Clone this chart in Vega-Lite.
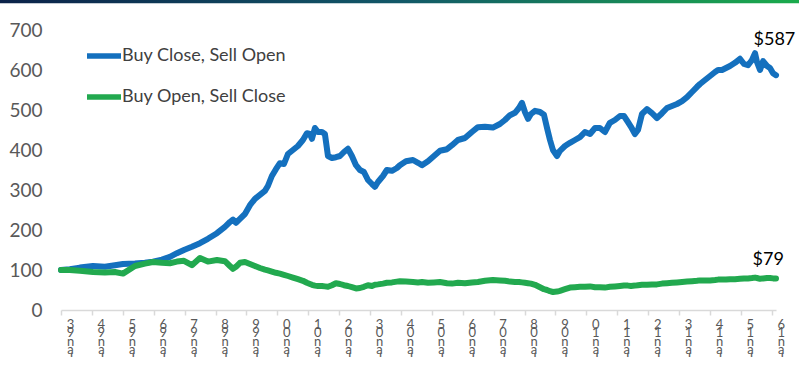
{
  "$schema": "https://vega.github.io/schema/vega-lite/v6.json",
  "width": 715,
  "height": 280,
  "autosize": {"type": "none"},
  "padding": {"left": 61, "top": 30, "right": 23, "bottom": 47},
  "background": "white",
  "config": {
    "view": {"stroke": null},
    "font": "Lato",
    "axisX": {
      "title": null,
      "labelAngle": 0, "labelAlign": "center", "labelBaseline": "top",
      "labelOffset": 9, "labelPadding": 3, "labelLineHeight": 8.5,
      "labelFontSize": 13, "labelFont": "Lato", "labelColor": "#595959",
      "labelOverlap": false, "labelFlush": false, "labelBound": false,
      "domainColor": "#d9d9d9", "domainWidth": 1.5, "tickColor": "#d9d9d9", "tickWidth": 1.5, "tickSize": 5,
      "grid": false
    }
  },
  "layer": [
    {
      "data": {"values": [
        {"date":"1993-01-01","Buy Close, Sell Open":100,"Buy Open, Sell Close":100},
        {"date":"1993-04-15","Buy Close, Sell Open":102,"Buy Open, Sell Close":100},
        {"date":"1993-08-12","Buy Close, Sell Open":106,"Buy Open, Sell Close":98},
        {"date":"1994-01-14","Buy Close, Sell Open":110,"Buy Open, Sell Close":95},
        {"date":"1994-06-04","Buy Close, Sell Open":108,"Buy Open, Sell Close":94},
        {"date":"1994-09-30","Buy Close, Sell Open":112,"Buy Open, Sell Close":95},
        {"date":"1995-01-03","Buy Close, Sell Open":115,"Buy Open, Sell Close":91},
        {"date":"1995-05-25","Buy Close, Sell Open":116,"Buy Open, Sell Close":110},
        {"date":"1995-09-20","Buy Close, Sell Open":118,"Buy Open, Sell Close":116},
        {"date":"1995-12-23","Buy Close, Sell Open":121,"Buy Open, Sell Close":120},
        {"date":"1996-04-08","Buy Close, Sell Open":126,"Buy Open, Sell Close":118},
        {"date":"1996-07-11","Buy Close, Sell Open":133,"Buy Open, Sell Close":117},
        {"date":"1996-10-02","Buy Close, Sell Open":142,"Buy Open, Sell Close":121},
        {"date":"1996-12-24","Buy Close, Sell Open":150,"Buy Open, Sell Close":123},
        {"date":"1997-03-28","Buy Close, Sell Open":158,"Buy Open, Sell Close":112},
        {"date":"1997-07-01","Buy Close, Sell Open":167,"Buy Open, Sell Close":130},
        {"date":"1997-10-03","Buy Close, Sell Open":178,"Buy Open, Sell Close":121},
        {"date":"1998-01-18","Buy Close, Sell Open":192,"Buy Open, Sell Close":125},
        {"date":"1998-04-22","Buy Close, Sell Open":208,"Buy Open, Sell Close":122},
        {"date":"1998-06-20","Buy Close, Sell Open":220,"Buy Open, Sell Close":110},
        {"date":"1998-07-26","Buy Close, Sell Open":226,"Buy Open, Sell Close":103},
        {"date":"1998-08-30","Buy Close, Sell Open":218,"Buy Open, Sell Close":108},
        {"date":"1998-10-17","Buy Close, Sell Open":228,"Buy Open, Sell Close":118},
        {"date":"1998-12-15","Buy Close, Sell Open":240,"Buy Open, Sell Close":120},
        {"date":"1999-02-12","Buy Close, Sell Open":262,"Buy Open, Sell Close":115},
        {"date":"1999-04-12","Buy Close, Sell Open":278,"Buy Open, Sell Close":110},
        {"date":"1999-06-10","Buy Close, Sell Open":288,"Buy Open, Sell Close":105},
        {"date":"1999-08-08","Buy Close, Sell Open":298,"Buy Open, Sell Close":101},
        {"date":"1999-09-12","Buy Close, Sell Open":310,"Buy Open, Sell Close":99},
        {"date":"1999-10-29","Buy Close, Sell Open":335,"Buy Open, Sell Close":96},
        {"date":"1999-12-16","Buy Close, Sell Open":352,"Buy Open, Sell Close":93},
        {"date":"2000-02-01","Buy Close, Sell Open":367,"Buy Open, Sell Close":91},
        {"date":"2000-03-20","Buy Close, Sell Open":365,"Buy Open, Sell Close":88},
        {"date":"2000-05-06","Buy Close, Sell Open":390,"Buy Open, Sell Close":85},
        {"date":"2000-07-04","Buy Close, Sell Open":400,"Buy Open, Sell Close":81},
        {"date":"2000-09-01","Buy Close, Sell Open":410,"Buy Open, Sell Close":77},
        {"date":"2000-10-30","Buy Close, Sell Open":425,"Buy Open, Sell Close":73},
        {"date":"2000-12-16","Buy Close, Sell Open":442,"Buy Open, Sell Close":68},
        {"date":"2001-01-21","Buy Close, Sell Open":440,"Buy Open, Sell Close":65},
        {"date":"2001-02-14","Buy Close, Sell Open":428,"Buy Open, Sell Close":63},
        {"date":"2001-03-21","Buy Close, Sell Open":455,"Buy Open, Sell Close":61},
        {"date":"2001-04-26","Buy Close, Sell Open":445,"Buy Open, Sell Close":60},
        {"date":"2001-06-12","Buy Close, Sell Open":445,"Buy Open, Sell Close":60},
        {"date":"2001-07-17","Buy Close, Sell Open":440,"Buy Open, Sell Close":59},
        {"date":"2001-08-22","Buy Close, Sell Open":385,"Buy Open, Sell Close":58},
        {"date":"2001-10-08","Buy Close, Sell Open":380,"Buy Open, Sell Close":62},
        {"date":"2001-11-24","Buy Close, Sell Open":382,"Buy Open, Sell Close":67},
        {"date":"2002-01-11","Buy Close, Sell Open":385,"Buy Open, Sell Close":65},
        {"date":"2002-02-27","Buy Close, Sell Open":395,"Buy Open, Sell Close":62},
        {"date":"2002-04-15","Buy Close, Sell Open":403,"Buy Open, Sell Close":60},
        {"date":"2002-06-01","Buy Close, Sell Open":385,"Buy Open, Sell Close":57},
        {"date":"2002-07-19","Buy Close, Sell Open":362,"Buy Open, Sell Close":54},
        {"date":"2002-09-04","Buy Close, Sell Open":350,"Buy Open, Sell Close":55},
        {"date":"2002-10-21","Buy Close, Sell Open":345,"Buy Open, Sell Close":58},
        {"date":"2002-12-08","Buy Close, Sell Open":325,"Buy Open, Sell Close":62},
        {"date":"2003-01-24","Buy Close, Sell Open":315,"Buy Open, Sell Close":60},
        {"date":"2003-02-28","Buy Close, Sell Open":308,"Buy Open, Sell Close":63},
        {"date":"2003-04-05","Buy Close, Sell Open":320,"Buy Open, Sell Close":64},
        {"date":"2003-06-03","Buy Close, Sell Open":335,"Buy Open, Sell Close":66},
        {"date":"2003-07-19","Buy Close, Sell Open":350,"Buy Open, Sell Close":68},
        {"date":"2003-09-17","Buy Close, Sell Open":348,"Buy Open, Sell Close":69},
        {"date":"2003-11-15","Buy Close, Sell Open":355,"Buy Open, Sell Close":71},
        {"date":"2003-12-20","Buy Close, Sell Open":362,"Buy Open, Sell Close":72},
        {"date":"2004-03-01","Buy Close, Sell Open":372,"Buy Open, Sell Close":71},
        {"date":"2004-05-23","Buy Close, Sell Open":375,"Buy Open, Sell Close":70},
        {"date":"2004-07-21","Buy Close, Sell Open":368,"Buy Open, Sell Close":69},
        {"date":"2004-09-06","Buy Close, Sell Open":362,"Buy Open, Sell Close":70},
        {"date":"2004-11-16","Buy Close, Sell Open":372,"Buy Open, Sell Close":68},
        {"date":"2005-01-26","Buy Close, Sell Open":385,"Buy Open, Sell Close":69},
        {"date":"2005-04-07","Buy Close, Sell Open":398,"Buy Open, Sell Close":70},
        {"date":"2005-06-29","Buy Close, Sell Open":402,"Buy Open, Sell Close":67},
        {"date":"2005-08-27","Buy Close, Sell Open":412,"Buy Open, Sell Close":66},
        {"date":"2005-11-05","Buy Close, Sell Open":425,"Buy Open, Sell Close":68},
        {"date":"2006-01-27","Buy Close, Sell Open":430,"Buy Open, Sell Close":67},
        {"date":"2006-04-19","Buy Close, Sell Open":445,"Buy Open, Sell Close":69},
        {"date":"2006-06-29","Buy Close, Sell Open":457,"Buy Open, Sell Close":70},
        {"date":"2006-09-20","Buy Close, Sell Open":458,"Buy Open, Sell Close":73},
        {"date":"2006-12-23","Buy Close, Sell Open":456,"Buy Open, Sell Close":75},
        {"date":"2007-03-16","Buy Close, Sell Open":465,"Buy Open, Sell Close":74},
        {"date":"2007-05-15","Buy Close, Sell Open":475,"Buy Open, Sell Close":73},
        {"date":"2007-07-13","Buy Close, Sell Open":487,"Buy Open, Sell Close":71},
        {"date":"2007-09-10","Buy Close, Sell Open":493,"Buy Open, Sell Close":70},
        {"date":"2007-10-27","Buy Close, Sell Open":505,"Buy Open, Sell Close":70},
        {"date":"2007-12-02","Buy Close, Sell Open":518,"Buy Open, Sell Close":69},
        {"date":"2008-01-06","Buy Close, Sell Open":495,"Buy Open, Sell Close":68},
        {"date":"2008-02-11","Buy Close, Sell Open":478,"Buy Open, Sell Close":67},
        {"date":"2008-03-17","Buy Close, Sell Open":490,"Buy Open, Sell Close":66},
        {"date":"2008-05-04","Buy Close, Sell Open":498,"Buy Open, Sell Close":63},
        {"date":"2008-07-02","Buy Close, Sell Open":495,"Buy Open, Sell Close":57},
        {"date":"2008-08-18","Buy Close, Sell Open":488,"Buy Open, Sell Close":52},
        {"date":"2008-09-23","Buy Close, Sell Open":455,"Buy Open, Sell Close":50},
        {"date":"2008-10-28","Buy Close, Sell Open":425,"Buy Open, Sell Close":47},
        {"date":"2008-12-02","Buy Close, Sell Open":400,"Buy Open, Sell Close":45},
        {"date":"2009-01-19","Buy Close, Sell Open":385,"Buy Open, Sell Close":46},
        {"date":"2009-02-23","Buy Close, Sell Open":398,"Buy Open, Sell Close":48},
        {"date":"2009-04-23","Buy Close, Sell Open":410,"Buy Open, Sell Close":52},
        {"date":"2009-06-21","Buy Close, Sell Open":418,"Buy Open, Sell Close":56},
        {"date":"2009-08-19","Buy Close, Sell Open":425,"Buy Open, Sell Close":57},
        {"date":"2009-10-17","Buy Close, Sell Open":432,"Buy Open, Sell Close":58},
        {"date":"2009-12-15","Buy Close, Sell Open":445,"Buy Open, Sell Close":58},
        {"date":"2010-02-13","Buy Close, Sell Open":440,"Buy Open, Sell Close":59},
        {"date":"2010-04-13","Buy Close, Sell Open":455,"Buy Open, Sell Close":57},
        {"date":"2010-06-10","Buy Close, Sell Open":455,"Buy Open, Sell Close":57},
        {"date":"2010-08-08","Buy Close, Sell Open":445,"Buy Open, Sell Close":56},
        {"date":"2010-10-06","Buy Close, Sell Open":468,"Buy Open, Sell Close":58},
        {"date":"2010-12-04","Buy Close, Sell Open":475,"Buy Open, Sell Close":59},
        {"date":"2011-02-02","Buy Close, Sell Open":485,"Buy Open, Sell Close":60},
        {"date":"2011-03-21","Buy Close, Sell Open":485,"Buy Open, Sell Close":61},
        {"date":"2011-05-07","Buy Close, Sell Open":470,"Buy Open, Sell Close":61},
        {"date":"2011-06-12","Buy Close, Sell Open":458,"Buy Open, Sell Close":60},
        {"date":"2011-07-29","Buy Close, Sell Open":440,"Buy Open, Sell Close":61},
        {"date":"2011-09-03","Buy Close, Sell Open":450,"Buy Open, Sell Close":62},
        {"date":"2011-10-20","Buy Close, Sell Open":490,"Buy Open, Sell Close":63},
        {"date":"2011-12-18","Buy Close, Sell Open":502,"Buy Open, Sell Close":63},
        {"date":"2012-02-15","Buy Close, Sell Open":492,"Buy Open, Sell Close":64},
        {"date":"2012-04-14","Buy Close, Sell Open":480,"Buy Open, Sell Close":64},
        {"date":"2012-06-13","Buy Close, Sell Open":492,"Buy Open, Sell Close":66},
        {"date":"2012-08-11","Buy Close, Sell Open":505,"Buy Open, Sell Close":67},
        {"date":"2012-10-09","Buy Close, Sell Open":510,"Buy Open, Sell Close":68},
        {"date":"2012-12-07","Buy Close, Sell Open":515,"Buy Open, Sell Close":69},
        {"date":"2013-02-05","Buy Close, Sell Open":522,"Buy Open, Sell Close":70},
        {"date":"2013-04-05","Buy Close, Sell Open":532,"Buy Open, Sell Close":71},
        {"date":"2013-06-03","Buy Close, Sell Open":545,"Buy Open, Sell Close":72},
        {"date":"2013-08-01","Buy Close, Sell Open":558,"Buy Open, Sell Close":73},
        {"date":"2013-09-05","Buy Close, Sell Open":565,"Buy Open, Sell Close":74},
        {"date":"2013-11-03","Buy Close, Sell Open":575,"Buy Open, Sell Close":74},
        {"date":"2014-01-02","Buy Close, Sell Open":585,"Buy Open, Sell Close":74},
        {"date":"2014-03-02","Buy Close, Sell Open":595,"Buy Open, Sell Close":75},
        {"date":"2014-04-06","Buy Close, Sell Open":600,"Buy Open, Sell Close":76},
        {"date":"2014-05-23","Buy Close, Sell Open":600,"Buy Open, Sell Close":76},
        {"date":"2014-07-09","Buy Close, Sell Open":605,"Buy Open, Sell Close":76},
        {"date":"2014-08-25","Buy Close, Sell Open":610,"Buy Open, Sell Close":77},
        {"date":"2014-10-23","Buy Close, Sell Open":618,"Buy Open, Sell Close":77},
        {"date":"2014-12-21","Buy Close, Sell Open":628,"Buy Open, Sell Close":78},
        {"date":"2015-02-07","Buy Close, Sell Open":615,"Buy Open, Sell Close":79},
        {"date":"2015-03-26","Buy Close, Sell Open":612,"Buy Open, Sell Close":79},
        {"date":"2015-05-12","Buy Close, Sell Open":625,"Buy Open, Sell Close":80},
        {"date":"2015-06-17","Buy Close, Sell Open":642,"Buy Open, Sell Close":81},
        {"date":"2015-07-10","Buy Close, Sell Open":620,"Buy Open, Sell Close":80},
        {"date":"2015-08-15","Buy Close, Sell Open":600,"Buy Open, Sell Close":78},
        {"date":"2015-09-20","Buy Close, Sell Open":622,"Buy Open, Sell Close":79},
        {"date":"2015-11-06","Buy Close, Sell Open":610,"Buy Open, Sell Close":80},
        {"date":"2015-12-11","Buy Close, Sell Open":605,"Buy Open, Sell Close":80},
        {"date":"2016-01-16","Buy Close, Sell Open":592,"Buy Open, Sell Close":79},
        {"date":"2016-02-20","Buy Close, Sell Open":587,"Buy Open, Sell Close":79}
      ]},
      "transform": [{"fold": ["Buy Close, Sell Open", "Buy Open, Sell Close"], "as": ["series", "value"]}],
      "mark": {"type": "line", "strokeWidth": 6, "strokeJoin": "round", "strokeCap": "round"},
      "encoding": {
        "x": {
          "field": "date", "type": "temporal",
          "scale": {"domain": [{"year": 1993, "month": 1, "date": 1}, {"year": 2016, "month": 2, "date": 20}]},
          "axis": {
            "tickCount": {"interval": "year", "step": 1},
            "labelExpr": "reverse(split(timeFormat(datum.value, '%b%y'), ''))"
          }
        },
        "y": {
          "field": "value", "type": "quantitative",
          "scale": {"domain": [0, 700]},
          "axis": {
            "title": null,
            "values": [0, 100, 200, 300, 400, 500, 600, 700],
            "ticks": false, "tickSize": 0, "domain": false, "grid": false,
            "labelOverlap": false, "labelBound": false, "labelFlush": false,
            "labelPadding": 19, "labelFontSize": 19, "labelFont": "Lato", "labelColor": "#595959"
          }
        },
        "color": {
          "field": "series", "type": "nominal",
          "scale": {"domain": ["Buy Close, Sell Open", "Buy Open, Sell Close"], "range": ["#1470be", "#22a94f"]},
          "legend": {
            "title": null, "orient": "none", "legendX": 23, "legendY": 6,
            "direction": "vertical",
            "symbolType": "stroke", "symbolSize": 1156, "symbolStrokeWidth": 5.5,
            "labelFontSize": 18, "labelFont": "Lato", "labelColor": "#404040", "labelLimit": 400,
            "labelOffset": -2, "rowPadding": 10
          }
        }
      }
    },
    {
      "data": {"values": [
        {"date": "2016-02-01", "value": 675, "label": "$587"},
        {"date": "2015-11-20", "value": 126, "label": "$79"}
      ]},
      "mark": {"type": "text", "fontSize": 18, "font": "Lato", "color": "#000000", "align": "center", "baseline": "middle"},
      "encoding": {
        "x": {"field": "date", "type": "temporal"},
        "y": {
          "field": "value", "type": "quantitative",
          "axis": {
            "title": null,
            "values": [0, 100, 200, 300, 400, 500, 600, 700],
            "ticks": false, "tickSize": 0, "domain": false, "grid": false,
            "labelOverlap": false, "labelBound": false, "labelFlush": false,
            "labelPadding": 19, "labelFontSize": 19, "labelFont": "Lato", "labelColor": "#595959"
          }
        },
        "text": {"field": "label"}
      }
    },
    {
      "data": {"values": [{}]},
      "mark": {"type": "rect", "fill": {"gradient": "linear", "x1": 0, "x2": 1, "y1": 0, "y2": 0, "stops": [{"offset": 0, "color": "#0b2249"}, {"offset": 0.5, "color": "#125868"}, {"offset": 1, "color": "#1bab4c"}]}},
      "encoding": {
        "x": {"datum": {"year": 1991, "month": 1, "date": 10}, "type": "temporal"},
        "x2": {"datum": {"year": 2016, "month": 11, "date": 20}},
        "y": {
          "datum": 776, "type": "quantitative",
          "axis": {
            "title": null,
            "values": [0, 100, 200, 300, 400, 500, 600, 700],
            "ticks": false, "tickSize": 0, "domain": false, "grid": false,
            "labelOverlap": false, "labelBound": false, "labelFlush": false,
            "labelPadding": 19, "labelFontSize": 19, "labelFont": "Lato", "labelColor": "#595959"
          }
        },
        "y2": {"datum": 767}
      }
    }
  ]
}
